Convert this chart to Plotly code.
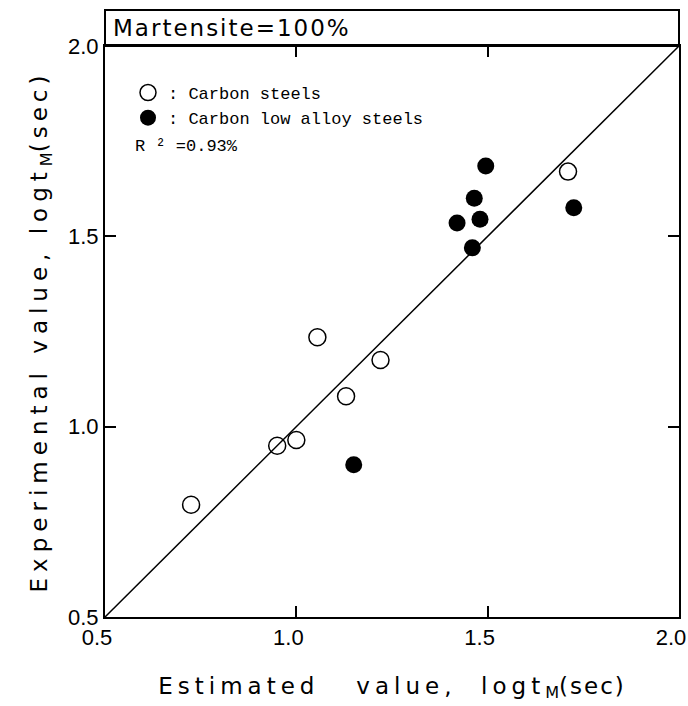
import plotly.graph_objects as go

# Data (estimated, experimental log tM)
carbon_x = [0.725, 0.95, 1.0, 1.055, 1.13, 1.22, 1.71]
carbon_y = [0.795, 0.95, 0.965, 1.235, 1.08, 1.175, 1.67]
alloy_x = [1.15, 1.42, 1.46, 1.465, 1.48, 1.495, 1.725]
alloy_y = [0.90, 1.535, 1.47, 1.60, 1.545, 1.685, 1.575]
line_xy = [0.5, 2.0]
tick_vals = [0.5, 1.0, 1.5, 2.0]
tick_text = ["0.5", "1.0", "1.5", "2.0"]

fig = go.Figure()
fig.add_trace(go.Scatter(x=line_xy, y=line_xy, mode="lines",
                         line=dict(color="black", width=1.5), showlegend=False, hoverinfo="skip"))
fig.add_trace(go.Scatter(x=carbon_x, y=carbon_y, mode="markers", name=": Carbon steels",
                         marker=dict(symbol="circle-open", size=17, color="black", line=dict(width=1.5, color="black"))))
fig.add_trace(go.Scatter(x=alloy_x, y=alloy_y, mode="markers", name=": Carbon low alloy steels",
                         marker=dict(symbol="circle", size=17, color="black")))

axis_common = dict(range=[0.5, 2.0], tickvals=tick_vals, ticktext=tick_text, ticks="inside",
                   ticklen=11, tickwidth=1.5, tickcolor="black", showline=True, linecolor="black",
                   linewidth=2, mirror="ticks", showgrid=False, zeroline=False, automargin=False,
                   tickfont=dict(family="Liberation Sans", size=22, color="black"))

fig.update_xaxes(**axis_common, ticklabeloverflow="allow", ticklabelshift=-8,
                 title=dict(text='<span style="letter-spacing:5px">Estimated   value,  logt</span><sub>M</sub><span style="letter-spacing:2px">(sec)</span>',
                            font=dict(family="DejaVu Sans", size=23, color="black"), standoff=28))
fig.update_yaxes(**axis_common,
                 title=dict(text='<span style="letter-spacing:6px">Experimental value, logt</span><sub>M</sub><span style="letter-spacing:5px">(sec)</span>',
                            font=dict(family="DejaVu Sans", size=23, color="black"), standoff=14))

# Title strip above the plot area
fig.add_shape(type="rect", xref="paper", yref="paper", x0=0, x1=1, y0=1, y1=1 + 36 / 571,
              line=dict(color="black", width=2))
fig.add_annotation(xref="paper", yref="paper", x=(111 - 105) / 574, y=1 + 18 / 571, xanchor="left", yanchor="middle",
                   text='<span style="letter-spacing:2px">Martensite=100%</span>', showarrow=False,
                   font=dict(family="DejaVu Sans", size=23, color="black"))
fig.add_annotation(xref="paper", yref="paper", x=(133 - 105) / 574, y=(617 - 146) / 571,
                   xanchor="left", yanchor="middle", text="R ² =0.93%", showarrow=False,
                   font=dict(family="Liberation Mono", size=17, color="black"))

fig.update_layout(
    width=688, height=706,
    margin=dict(l=105, r=9, t=46, b=89),
    plot_bgcolor="white", paper_bgcolor="white",
    legend=dict(x=(128 - 105) / 574, y=(617 - 75) / 571, xanchor="left", yanchor="top",
                bgcolor="rgba(0,0,0,0)", font=dict(family="Liberation Mono", size=17, color="black"),
                itemwidth=30, tracegroupgap=0),
)

fig.write_html("out.html")
